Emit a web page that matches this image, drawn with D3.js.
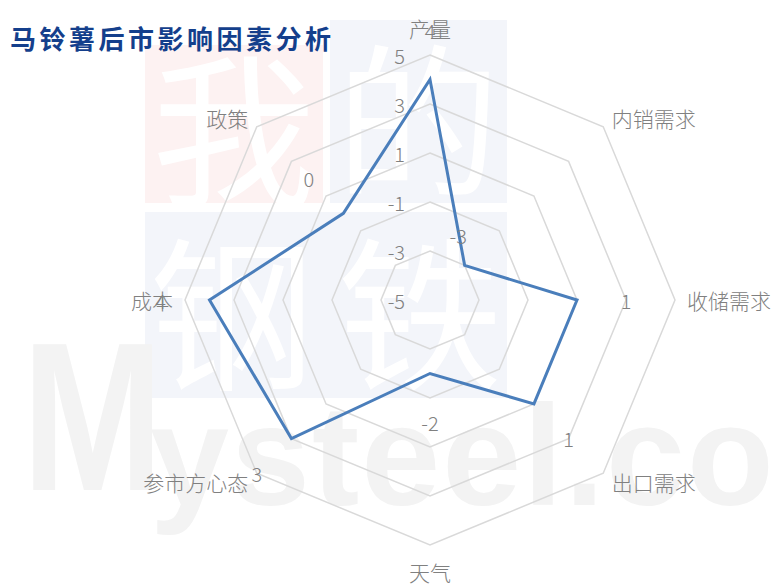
<!DOCTYPE html>
<html>
<head>
<meta charset="utf-8">
<script src="https://cdn.jsdelivr.net/npm/d3@7"></script>
<style>
  body { margin: 0; background: #fff; }
  text { font-family: "Noto Sans CJK SC", "Noto Sans", sans-serif; }
</style>
</head>
<body>
<div id="chart"></div>
<script>
/* DATA */
const categories = ["产量", "内销需求", "收储需求", "出口需求", "天气", "参市方心态", "成本", "政策"]
const values = [4, -3, 1, 1, -2, 3, 4, 0]
const ringTicks = [5, 3, 1, -1, -3]
const tickLabels = [5, 3, 1, -1, -3, -5]
const title = "马铃薯后市影响因素分析"

/* CONSTANTS */
const width = 784, height = 586
const cx = 430, cy = 300, R = 245
const gray = "#808080"

const svg = d3.select("#chart")
  .append("svg")
  .attr("width", width)
  .attr("height", height)

//watermark (faint logo behind the chart)
const wm = svg.append("g").attr("class", "watermark")
wm.append("rect").attr("x", 145).attr("y", 45).attr("width", 178).attr("height", 158).attr("fill", "#fdf2f2")
wm.append("rect").attr("x", 330).attr("y", 20).attr("width", 177).attr("height", 183).attr("fill", "#f3f5fa")
wm.append("rect").attr("x", 145).attr("y", 212).attr("width", 362).attr("height", 186).attr("fill", "#f3f5fa")
wm.selectAll(".wmchar")
  .data([["我", 234, 122], ["的", 418, 112], ["钢", 232, 305], ["铁", 420, 305]])
  .join("text")
  .attr("class", "wmchar")
  .attr("x", d => d[1])
  .attr("y", d => d[2])
  .attr("text-anchor", "middle")
  .attr("dominant-baseline", "central")
  .attr("font-size", 165)
  .attr("fill", "#ffffff")
  .text(d => d[0])
wm.append("text")
  .attr("x", 22)
  .attr("y", 490)
  .attr("font-size", 212)
  .attr("font-weight", "bold")
  .attr("transform", "translate(22,490) scale(0.8,1) translate(-22,-490)")
  .style("font-family", "'Liberation Sans', Arial, sans-serif")
  .attr("fill", "#f3f3f3")
  .text("M")
wm.append("text")
  .attr("x", 150)
  .attr("y", 505)
  .attr("font-size", 142)
  .attr("font-weight", "bold")
  .attr("letter-spacing", 2)
  .style("font-family", "'Liberation Sans', Arial, sans-serif")
  .attr("fill", "#f3f3f3")
  .text("ysteel.com")

//scales
const rScale = d3.scaleLinear()
  .domain([-5, 5])
  .range([0, R])

const angle = d3.scalePoint()
  .domain(categories)
  .range([0, 2 * Math.PI * (categories.length - 1) / categories.length])

const px = (cat, r) => cx + r * Math.sin(angle(cat))
const py = (cat, r) => cy - r * Math.cos(angle(cat))

//grid rings
svg.selectAll(".ring")
  .data(ringTicks)
  .join("polygon")
  .attr("class", "ring")
  .attr("points", t => categories.map(c => [px(c, rScale(t)), py(c, rScale(t))].join(",")).join(" "))
  .attr("fill", "none")
  .attr("stroke", "#d9d9d9")
  .attr("stroke-width", 1.5)

//tick labels
svg.selectAll(".tick-label")
  .data(tickLabels)
  .join("text")
  .attr("class", "tick-label")
  .attr("x", cx - 25)
  .attr("y", t => cy - rScale(t))
  .attr("text-anchor", "end")
  .attr("dominant-baseline", "central")
  .attr("font-size", 20)
  .attr("font-weight", 300)
  .attr("fill", gray)
  .text(t => t)

//series line
const line = d3.lineRadial()
  .angle((d, i) => angle(categories[i]))
  .radius(d => rScale(d))
  .curve(d3.curveLinearClosed)

svg.append("path")
  .datum(values)
  .attr("transform", `translate(${cx},${cy})`)
  .attr("d", line)
  .attr("fill", "none")
  .attr("stroke", "#4a7ebb")
  .attr("stroke-width", 3)
  .attr("stroke-linejoin", "miter")

//category labels
const labelPad = c => Math.abs(Math.sin(angle(c))) < 0.1 ? 27 : 12
svg.selectAll(".cat-label")
  .data(categories)
  .join("text")
  .attr("class", "cat-label")
  .attr("x", c => px(c, R + labelPad(c)))
  .attr("y", c => py(c, R + labelPad(c)))
  .attr("text-anchor", c => {
    const s = Math.sin(angle(c))
    return s > 0.1 ? "start" : s < -0.1 ? "end" : "middle"
  })
  .attr("dominant-baseline", "central")
  .attr("font-size", 21)
  .attr("font-weight", 300)
  .attr("fill", gray)
  .text(c => c)

//data labels
const labelShift = { "内销需求": [-41, 5] }
svg.selectAll(".data-label")
  .data(values)
  .join("text")
  .attr("class", "data-label")
  .attr("x", (d, i) => px(categories[i], rScale(d) + 49) + (labelShift[categories[i]] || [0, 0])[0])
  .attr("y", (d, i) => py(categories[i], rScale(d) + 49) + (labelShift[categories[i]] || [0, 0])[1])
  .attr("text-anchor", "middle")
  .attr("dominant-baseline", "central")
  .attr("font-size", 20)
  .attr("font-weight", 300)
  .attr("fill", gray)
  .text(d => d)

//title
svg.append("text")
  .attr("x", 10)
  .attr("y", 37)
  .attr("dominant-baseline", "central")
  .attr("font-size", 26)
  .attr("font-weight", "bold")
  .attr("letter-spacing", 3.5)
  .attr("fill", "#143f8c")
  .text(title)
</script>
</body>
</html>
